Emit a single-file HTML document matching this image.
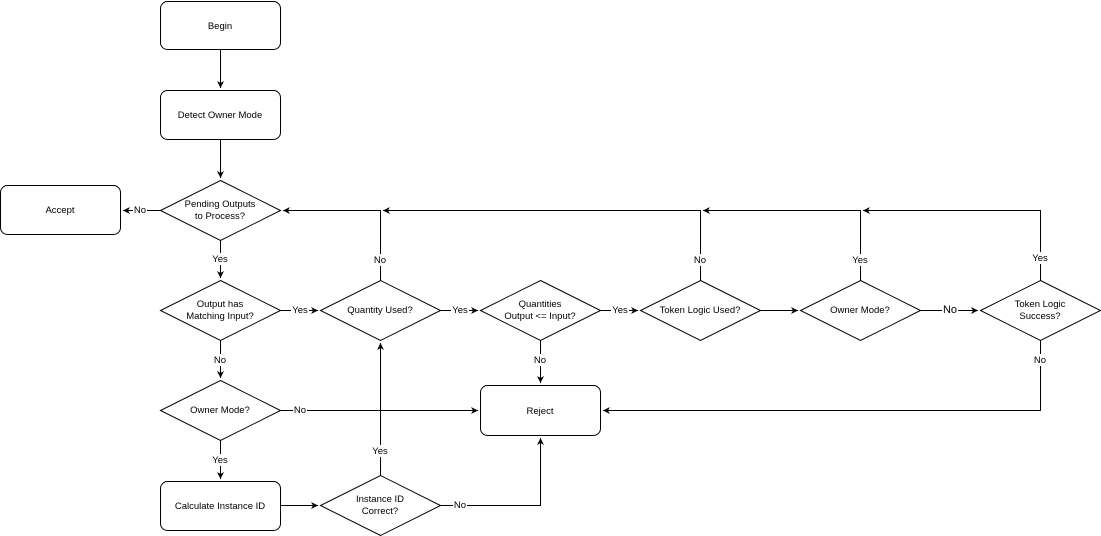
<!DOCTYPE html>
<html><head><meta charset="utf-8"><style>
html,body{margin:0;padding:0;background:#fff;}
svg{display:block;}
text{font-family:"Liberation Sans",Arial,sans-serif;font-size:9.5px;fill:#000;}
</style></head><body>
<svg width="1101" height="536" viewBox="0 0 1101 536" xmlns="http://www.w3.org/2000/svg">
<defs>
<marker id="a" markerWidth="8" markerHeight="8" refX="7" refY="4" orient="auto" markerUnits="userSpaceOnUse">
<path d="M0,0.5 L7,4 L0,7.5 L2,4 Z" fill="#000"/></marker>
</defs>
<g fill="#fff" stroke="#000" stroke-width="1">
<rect x="160.5" y="1.5" width="120" height="48" rx="7"/>
<rect x="160.5" y="90.5" width="120" height="49" rx="7"/>
<rect x="0.5" y="185.5" width="120" height="49" rx="7"/>
<rect x="480.5" y="385.5" width="120" height="50" rx="7"/>
<rect x="160.5" y="481.5" width="120" height="49" rx="7"/>
<path d="M220.5,180.5 L280.5,210.5 L220.5,240.5 L160.5,210.5 Z"/>
<path d="M220.5,280.5 L280.5,310.5 L220.5,340.5 L160.5,310.5 Z"/>
<path d="M380.5,280.5 L440.5,310.5 L380.5,340.5 L320.5,310.5 Z"/>
<path d="M540.5,280.5 L600.5,310.5 L540.5,340.5 L480.5,310.5 Z"/>
<path d="M700.5,280.5 L760.5,310.5 L700.5,340.5 L640.5,310.5 Z"/>
<path d="M860.5,280.5 L920.5,310.5 L860.5,340.5 L800.5,310.5 Z"/>
<path d="M1040.5,280.5 L1100.5,310.5 L1040.5,340.5 L980.5,310.5 Z"/>
<path d="M220.5,380.5 L280.5,410.5 L220.5,440.5 L160.5,410.5 Z"/>
<path d="M380.5,475.5 L440.5,505.5 L380.5,535.5 L320.5,505.5 Z"/>
</g>
<g fill="none" stroke="#000" stroke-width="1">
<path d="M220.5,49.5 V88" marker-end="url(#a)"/>
<path d="M220.5,139.5 V178" marker-end="url(#a)"/>
<path d="M160.5,210.5 H123" marker-end="url(#a)"/>
<path d="M220.5,240.5 V278" marker-end="url(#a)"/>
<path d="M280.5,310.5 H318" marker-end="url(#a)"/>
<path d="M440.5,310.5 H478" marker-end="url(#a)"/>
<path d="M600.5,310.5 H638" marker-end="url(#a)"/>
<path d="M760.5,310.5 H798" marker-end="url(#a)"/>
<path d="M920.5,310.5 H978" marker-end="url(#a)"/>
<path d="M380.5,280.5 V210.5 H283" marker-end="url(#a)"/>
<path d="M700.5,280.5 V210.5 H383" marker-end="url(#a)"/>
<path d="M860.5,280.5 V210.5 H703" marker-end="url(#a)"/>
<path d="M1040.5,280.5 V210.5 H863" marker-end="url(#a)"/>
<path d="M540.5,340.5 V383" marker-end="url(#a)"/>
<path d="M1040.5,340.5 V410.5 H603" marker-end="url(#a)"/>
<path d="M280.5,410.5 H478" marker-end="url(#a)"/>
<path d="M220.5,340.5 V378" marker-end="url(#a)"/>
<path d="M220.5,440.5 V479" marker-end="url(#a)"/>
<path d="M280.5,505.5 H318" marker-end="url(#a)"/>
<path d="M440.5,505.5 H540.5 V438" marker-end="url(#a)"/>
<path d="M380.5,475.5 V343" marker-end="url(#a)"/>
</g>
<g text-anchor="middle">
<text x="220" y="29">Begin</text>
<text x="220" y="118">Detect Owner Mode</text>
<text x="60" y="213">Accept</text>
<text x="220" y="207">Pending Outputs</text><text x="220" y="219">to Process?</text>
<text x="220" y="307">Output has</text><text x="220" y="319">Matching Input?</text>
<text x="380" y="313">Quantity Used?</text>
<text x="540" y="307">Quantities</text><text x="540" y="319">Output &lt;= Input?</text>
<text x="700" y="313">Token Logic Used?</text>
<text x="860" y="313">Owner Mode?</text>
<text x="1040" y="307">Token Logic</text><text x="1040" y="319">Success?</text>
<text x="220" y="413">Owner Mode?</text>
<text x="540" y="414">Reject</text>
<text x="220" y="509">Calculate Instance ID</text>
<text x="380" y="502">Instance ID</text><text x="380" y="514">Correct?</text>
</g>
<g text-anchor="middle">
<rect x="133" y="204" width="14" height="12" fill="#fff"/><text x="140" y="213">No</text>
<rect x="211" y="253" width="18" height="12" fill="#fff"/><text x="220" y="262">Yes</text>
<rect x="291" y="304" width="18" height="12" fill="#fff"/><text x="300" y="313">Yes</text>
<rect x="451" y="304" width="18" height="12" fill="#fff"/><text x="460" y="313">Yes</text>
<rect x="611" y="304" width="18" height="12" fill="#fff"/><text x="620" y="313">Yes</text>
<rect x="942" y="303" width="16" height="13" fill="#fff"/><text x="950" y="313" style="font-size:11px">No</text>
<rect x="373" y="254" width="14" height="12" fill="#fff"/><text x="380" y="263">No</text>
<rect x="693" y="254" width="14" height="12" fill="#fff"/><text x="700" y="263">No</text>
<rect x="851" y="254" width="18" height="12" fill="#fff"/><text x="860" y="263">Yes</text>
<rect x="1031" y="252" width="18" height="12" fill="#fff"/><text x="1040" y="261">Yes</text>
<rect x="533" y="354" width="14" height="12" fill="#fff"/><text x="540" y="363">No</text>
<rect x="1033" y="354" width="14" height="12" fill="#fff"/><text x="1040" y="363">No</text>
<rect x="213" y="354" width="14" height="12" fill="#fff"/><text x="220" y="363">No</text>
<rect x="293" y="404" width="14" height="12" fill="#fff"/><text x="300" y="413">No</text>
<rect x="211" y="454" width="18" height="12" fill="#fff"/><text x="220" y="463">Yes</text>
<rect x="371" y="445" width="18" height="12" fill="#fff"/><text x="380" y="454">Yes</text>
<rect x="453" y="499" width="14" height="12" fill="#fff"/><text x="460" y="508">No</text>
</g>
</svg>
</body></html>
